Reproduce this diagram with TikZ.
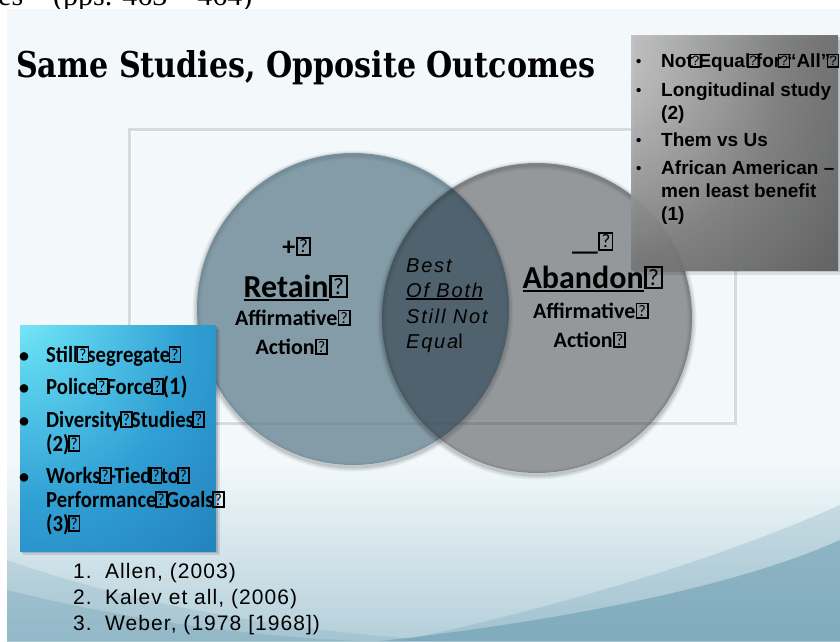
\documentclass[tikz,border=0pt]{standalone}
\usepackage{fontspec}
\usepackage{graphicx}
\setmainfont{Liberation Serif}
\newfontfamily\fArial{Liberation Sans}
\newfontfamily\fArialLens[LetterSpace=9]{Liberation Sans}
\newfontfamily\fArialRef[LetterSpace=5]{Liberation Sans}
\newfontfamily\fCal{Carlito}
\newfontfamily\fCalTall[FakeStretch=0.9]{Carlito}
\newfontfamily\fTitle{DejaVu Serif}

% boxed "?" standing in for characters the slide font could not show
\newcommand\qg{\kern0.02em\raisebox{0.08em}{\setlength\fboxsep{0.05em}\setlength\fboxrule{0.07em}\fbox{\mdseries\upshape\resizebox{!}{0.5em}{?}}}\kern0.02em}
% the same mark squeezed so that it overlaps its neighbours
\newcommand\qgn{\makebox[0.3em][c]{\qg}}
\newcommand\qgb{\makebox[0.4em][c]{\qg}}
% underline drawn as a rule below a box
\newcommand\undr[1]{\setbox0=\hbox{#1}\rlap{\rule[-0.14em]{\wd0}{0.08em}}\box0}

\definecolor{bgTop}{RGB}{243,249,251}
\definecolor{bgLow}{RGB}{180,207,218}
\definecolor{tealB}{RGB}{96,150,172}
\definecolor{retainC}{RGB}{86,117,134}
\definecolor{abandonC}{RGB}{64,64,66}
\definecolor{lensC}{RGB}{30,70,95}
\definecolor{frameC}{RGB}{214,219,222}

\pgfdeclareradialshading{graybox}{\pgfpoint{-40bp}{26bp}}{%
  color(0bp)=(black!18); color(15bp)=(black!28); color(40bp)=(black!52);
  color(70bp)=(black!70); color(100bp)=(black!76); color(130bp)=(black!78)}
\pgfdeclareradialshading{bluebox}{\pgfpoint{-30bp}{34bp}}{%
  color(0bp)=(rgb,255:red,160;green,244;blue,252); color(12bp)=(rgb,255:red,100;green,218;blue,242);
  color(38bp)=(rgb,255:red,48;green,160;blue,212); color(70bp)=(rgb,255:red,30;green,116;blue,176);
  color(130bp)=(rgb,255:red,24;green,96;blue,160)}

\tikzset{
  gtxt/.style={anchor=base west, inner sep=0pt, font=\fArial\bfseries\fontsize{19}{22}\selectfont},
  gdot/.style={anchor=base west, inner sep=0pt, font=\fArial\bfseries\fontsize{15}{22}\selectfont},
  btxt/.style={anchor=base west, inner sep=0pt, font=\fCalTall\bfseries\fontsize{23}{24}\selectfont},
  bdot/.style={anchor=base west, inner sep=0pt, font=\fCal\bfseries\fontsize{20}{24}\selectfont},
  vsmall/.style={anchor=base, inner sep=0pt, font=\fCal\bfseries\fontsize{22}{26}\selectfont},
  vbig/.style={anchor=base, inner sep=0pt, font=\fCal\bfseries\fontsize{32}{36}\selectfont},
  lens/.style={anchor=base west, inner sep=0pt, font=\fArialLens\itshape\fontsize{20}{24}\selectfont},
  reftxt/.style={anchor=base west, inner sep=0pt, font=\fArialRef\fontsize{21}{24}\selectfont},
}

\begin{document}
\begin{tikzpicture}[x=1pt,y=-1pt]
\useasboundingbox (0,0) rectangle (840,641);
\clip (0,0) rectangle (840,641);
\fill[white] (0,0) rectangle (840,641);

% running head of the page above the slide
\node[name=runhead, anchor=base west, inner sep=0pt, font=\fontsize{30}{30}\selectfont] at (-2,5) {es\quad(pps. 463 – 464)};

% slide background with the teal swoosh at the bottom
\fill[bgTop] (7,9) rectangle (840,641);
\shade[top color=bgTop, bottom color=bgLow] (7,460) rectangle (840,641);
\fill[tealB, opacity=0.22] (400,641) .. controls (590,600) and (740,550) .. (840,505) -- (840,641) -- cycle;
\fill[tealB, opacity=0.5] (380,641) .. controls (570,620) and (740,585) .. (840,540) -- (840,641) -- cycle;
\fill[tealB, opacity=0.18] (7,560) .. controls (120,600) and (260,628) .. (440,641) -- (7,641) -- cycle;
\fill[tealB, opacity=0.25] (7,590) .. controls (120,618) and (240,636) .. (360,641) -- (7,641) -- cycle;

% frame behind the Venn diagram
\draw[frameC, line width=3pt] (129.5,129.5) rectangle (735,423);
\draw[white, line width=1pt] (131,131) rectangle (733.5,421.5);

% Venn circles with soft rims
\foreach \w/\o in {9/0.05,6/0.07,3/0.09}
  \draw[black, opacity=\o, line width=\w pt] (353,311) circle[radius=156pt];
\fill[retainC, opacity=0.7] (353,309) circle[radius=156pt];
\foreach \w/\o in {9/0.05,6/0.07,3/0.09}
  \draw[black, opacity=\o, line width=\w pt] (537,320) circle[radius=155pt];
\fill[abandonC, opacity=0.52] (537,318) circle[radius=155pt];
\begin{scope}
  \clip (353,309) circle[radius=156pt];
  \fill[lensC, opacity=0.24] (537,318) circle[radius=155pt];
\end{scope}

% grey note box, upper right
\fill[black, opacity=0.10] (635,40) rectangle (842,275);
\fill[black, opacity=0.12] (633,37) rectangle (840,272);
\shade[shading=graybox, fill opacity=0.93] (631,35) rectangle (838,270);

\node[gdot] (gb1) at (636,66) {•};
\node[gtxt] (g1) at (661,67) {Not\qgn Equal\qgn for\qgn“All”\qgn};
\node[gdot] (gb2) at (636,95) {•};
\node[gtxt] (g2) at (661,96) {Longitudinal study};
\node[gtxt] (g3) at (661,119) {(2)};
\node[gdot] (gb3) at (636,145) {•};
\node[gtxt] (g4) at (661,146) {Them vs Us};
\node[gdot] (gb4) at (636,173) {•};
\node[gtxt] (g5) at (661,174) {African American –};
\node[gtxt] (g6) at (661,197) {men least benefit};
\node[gtxt] (g7) at (661,220) {(1)};

% blue note box, lower left
\fill[black, opacity=0.10] (23,329) rectangle (220,555);
\fill[black, opacity=0.14] (21,327) rectangle (218,553);
\shade[shading=bluebox] (20,325) rectangle (216,551);

\node[bdot] (bb1) at (19,362) {•};
\node[btxt] (b1) at (46,362) {Still\qgb segregate\qgb};
\node[bdot] (bb2) at (19,394) {•};
\node[btxt] (b2) at (46,394) {Police\qgb Force\qgb{\fontsize{25}{26}\selectfont(1)}};
\node[bdot] (bb3) at (19,427) {•};
\node[btxt] (b3) at (46,427) {Diversity\qgb Studies\qgb};
\node[btxt] (b4) at (46,451) {(2)\qgb};
\node[bdot] (bb4) at (19,483) {•};
\node[btxt] (b5) at (46,483) {Works\qgb-Tied\qgb to\qgb};
\node[btxt] (b6) at (46,507) {Performance\qgb Goals\qgb};
\node[btxt] (b7) at (46,531) {(3)\qgb};

% labels inside the circles
\node[vsmall, font=\fCal\bfseries\fontsize{26}{28}\selectfont] (plus) at (297,255) {+\qg};
\node[vbig] (retain) at (296,297) {\undr{Retain}\qg};
\node[vsmall] (affL) at (293,325) {Affirmative\qg};
\node[vsmall] (actL) at (292,354) {Action\qg};

\node[vsmall, font=\fCal\bfseries\fontsize{26}{28}\selectfont] (minus) at (593,250) {\_\_\qg};
\node[vbig] (abandon) at (593,288) {\undr{Abandon}\qg};
\node[vsmall] (affR) at (591,318) {Affirmative\qg};
\node[vsmall] (actR) at (590,347) {Action\qg};

\node[lens] (best) at (406,272) {Best};
\node[lens] (both) at (406,297) {\undr{Of Both}};
\node[lens] (still) at (406,323) {Still Not};
\node[lens] (equal) at (406,348) {Equa{\upshape l}};

% title
\node[anchor=base west, inner sep=0pt] (title) at (16,77)
  {\resizebox{579pt}{27pt}{\fTitle\bfseries Same Studies, Opposite Outcomes}};

% references
\node[reftxt] (r1n) at (73,578) {1.};
\node[reftxt] (r1) at (105,578) {Allen, (2003)};
\node[reftxt] (r2n) at (73,604) {2.};
\node[reftxt] (r2) at (105,604) {Kalev et all, (2006)};
\node[reftxt] (r3n) at (73,630) {3.};
\node[reftxt] (r3) at (105,630) {Weber, (1978 [1968])};
\end{tikzpicture}
\end{document}
